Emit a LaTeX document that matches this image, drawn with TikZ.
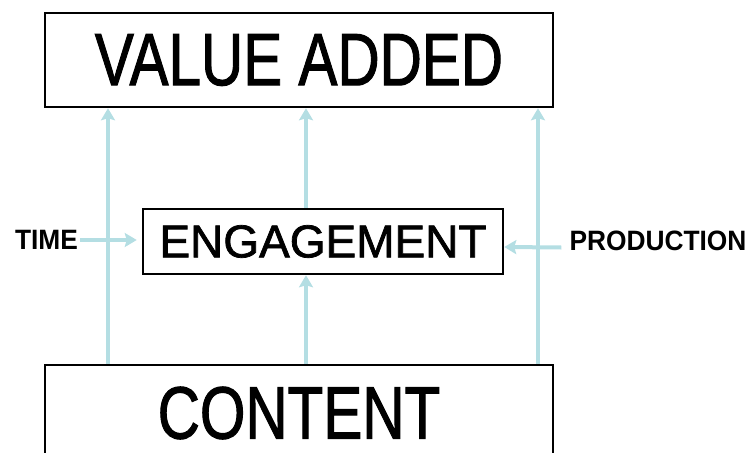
\documentclass[tikz,border=0pt]{standalone}
\usepackage{fontspec}
\usepackage{graphicx}
\setmainfont{Liberation Sans}
\usetikzlibrary{arrows.meta}
\definecolor{flowblue}{HTML}{B4DEE3}
\tikzset{
  box/.style={draw=black, line width=2.5pt, inner sep=0pt, fill=white},
  flow/.style={flowblue, line width=4pt, -{Stealth[length=12pt,width=14pt,inset=2pt]}},
  lbl/.style={inner sep=0pt, font=\bfseries\fontsize{28}{28}\selectfont}
}
\newcommand{\heavy}{\addfontfeature{FakeBold=1.6}}
\begin{document}
\begin{tikzpicture}[x=1pt,y=-1pt]
    \useasboundingbox (0,0) rectangle (756,453);
    \clip (0,0) rectangle (756,453);

      \node[box, minimum width=508pt, minimum height=94pt] (value) at (299,60)
        {\scalebox{0.79}[1]{\fontsize{74}{74}\selectfont\heavy VALUE ADDED}};
      \node[box, minimum width=360pt, minimum height=65pt] (engage) at (323,241.5)
        {\fontsize{46}{46}\selectfont\heavy ENGAGEMENT};
      \node[box, minimum width=508pt, minimum height=96pt] (content) at (299,413)
        {\scalebox{0.79}[1]{\fontsize{74}{74}\selectfont\heavy CONTENT}};

      \node[lbl] (time) at (46.5,240) {\scalebox{0.94}[1]{TIME}};
      \node[lbl] (prod) at (658,240.5) {\scalebox{0.94}[1]{PRODUCTION}};

      \coordinate (xl) at (108,0);
      \coordinate (xm) at (306,0);
      \coordinate (xr) at (538,0);

      \draw[flow] (content.north -| xl) -- (value.south -| xl);
      \draw[flow] (content.north -| xr) -- (value.south -| xr);
      \draw[flow] (content.north -| xm) -- (engage.south -| xm);
      \draw[flow] (engage.north -| xm) -- (value.south -| xm);

      \draw[flow, shorten >=5pt] ([xshift=2pt]time.east) -- (time.east -| engage.west);
      \draw[flow] ([xshift=-8pt,yshift=-7pt]prod.west) -- ([yshift=-5.5pt]engage.east);
  \end{tikzpicture}
\end{document}
